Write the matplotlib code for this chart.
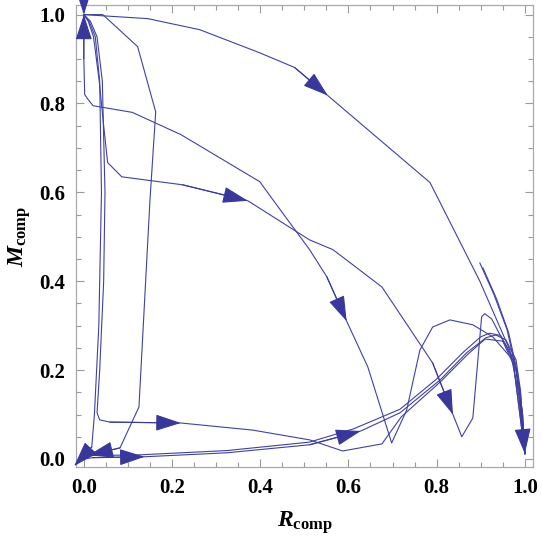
import numpy as np
import matplotlib.pyplot as plt
from matplotlib.ticker import MultipleLocator, FormatStrFormatter

plt.rcParams['font.family'] = ['Liberation Serif', 'DejaVu Serif']
plt.rcParams['font.weight'] = 'bold'
plt.rcParams['mathtext.fontset'] = 'custom'
plt.rcParams['mathtext.rm'] = 'Liberation Serif:bold'
plt.rcParams['mathtext.it'] = 'Liberation Serif:italic:bold'
plt.rcParams['mathtext.bf'] = 'Liberation Serif:bold'

# trajectories (R_comp, M_comp)
curve_a_x = [0, 0.145, 0.263, 0.399, 0.478, 0.553, 0.785, 0.898, 0.966, 0.989, 1.0]
curve_a_y = [1.0, 0.991, 0.966, 0.914, 0.881, 0.818, 0.622, 0.40, 0.245, 0.133, 0.012]

curve_b_x = [0, 0.043, 0.122, 0.163, 0.150, 0.125, 0.082, 0.010]
curve_b_y = [1.0, 1.0, 0.928, 0.781, 0.583, 0.117, 0.025, 0.008]

curve_c_x = [0, 0, 0.002, 0.009, 0.021, 0.11, 0.22, 0.399, 0.429, 0.512, 0.551, 0.596,
             0.644, 0.698, 0.732, 0.762, 0.791, 0.83, 0.882, 0.927, 0.973, 1.0]
curve_c_y = [1.0, 0.9, 0.82, 0.81, 0.795, 0.78, 0.73, 0.624, 0.583, 0.471, 0.41, 0.31,
             0.207, 0.036, 0.11, 0.245, 0.297, 0.313, 0.302, 0.275, 0.223, 0.012]

curve_d_x = [0, 0.01, 0.022, 0.035, 0.045, 0.054, 0.086, 0.224, 0.372, 0.512, 0.565, 0.676,
             0.791, 0.837, 0.857, 0.882, 0.902, 0.909, 0.925, 0.973, 1.0]
curve_d_y = [1.0, 0.985, 0.95, 0.85, 0.75, 0.667, 0.635, 0.617, 0.581, 0.493, 0.471, 0.387,
             0.216, 0.100, 0.05, 0.092, 0.32, 0.327, 0.315, 0.223, 0.012]

curve_e_x = [0, 0.015, 0.03, 0.042, 0.048, 0.045, 0.036, 0.03, 0.036, 0.059, 0.22, 0.383,
             0.512, 0.587, 0.676, 0.72, 0.81, 0.87, 0.91, 0.95, 0.98, 1.0]
curve_e_y = [1.0, 0.985, 0.95, 0.85, 0.6, 0.4, 0.2, 0.104, 0.088, 0.083, 0.081, 0.065,
             0.043, 0.018, 0.034, 0.095, 0.175, 0.235, 0.27, 0.265, 0.2, 0.012]

curve_f_x = [0, 0.012, 0.026, 0.036, 0.04, 0.034, 0.024, 0.018, -0.022]
curve_f_y = [1.0, 0.985, 0.95, 0.85, 0.6, 0.3, 0.1, 0.027, -0.016]

curve_g1_x = [0, 0.02, 0.138, 0.325, 0.512, 0.628, 0.717, 0.808, 0.868, 0.912, 0.934, 0.957, 0.98, 0.99, 1.0]
curve_g1_y = [0, 0.003, 0.005, 0.014, 0.032, 0.063, 0.104, 0.178, 0.239, 0.273, 0.279, 0.268, 0.223, 0.155, 0.012]

curve_g2_x = [0, 0.02, 0.12, 0.325, 0.512, 0.612, 0.717, 0.80, 0.86, 0.90, 0.92, 0.945, 0.975, 0.99, 1.0]
curve_g2_y = [0, 0.008, 0.009, 0.019, 0.038, 0.068, 0.112, 0.18, 0.24, 0.275, 0.283, 0.278, 0.225, 0.15, 0.012]

curve_h1_x = [0.898, 0.93, 0.96, 0.98, 0.995, 1.0]
curve_h1_y = [0.441, 0.37, 0.29, 0.20, 0.10, 0.012]
curve_h2_x = [0.905, 0.936, 0.963, 0.982, 0.995, 1.0]
curve_h2_y = [0.43, 0.36, 0.285, 0.20, 0.10, 0.012]

curve_i_x = [0, 0]
curve_i_y = [1.045, 1.0]

curves = {
    'A': (curve_a_x, curve_a_y), 'B': (curve_b_x, curve_b_y),
    'C': (curve_c_x, curve_c_y), 'D': (curve_d_x, curve_d_y),
    'E': (curve_e_x, curve_e_y), 'F': (curve_f_x, curve_f_y),
    'G1': (curve_g1_x, curve_g1_y), 'G2': (curve_g2_x, curve_g2_y),
    'H1': (curve_h1_x, curve_h1_y), 'H2': (curve_h2_x, curve_h2_y),
}

# arrowheads: (curve, tip index, tail index)
arrows = [('A', 5, 4), ('A', -1, -2), ('B', -1, -2), ('C', 0, 1), ('C', 11, 10),
          ('D', 8, 7), ('D', 13, 12), ('E', 10, 9), ('F', -1, -2),
          ('G1', 2, 1), ('G1', 5, 4), ('I', 1, 0)]

color = '#4040a6'

fig = plt.figure(figsize=(5.42, 5.38), dpi=100)
ax = fig.add_axes([0.140, 0.132, 0.843, 0.859])

for name, (cx, cy) in curves.items():
    ax.plot(cx, cy, color=color, lw=0.8)

all_curves = dict(curves)
all_curves['I'] = (curve_i_x, curve_i_y)
for name, tip, tail in arrows:
    cx, cy = all_curves[name]
    ax.annotate('', xy=(cx[tip], cy[tip]), xytext=(cx[tail], cy[tail]),
                annotation_clip=False,
                arrowprops=dict(arrowstyle='-|>,head_length=0.8,head_width=0.26',
                                color='#38389c', lw=0.8, mutation_scale=20,
                                shrinkA=0, shrinkB=0))

ax.set_xlim(-0.018, 1.018)
ax.set_ylim(-0.018, 1.022)

ax.xaxis.set_major_locator(MultipleLocator(0.2))
ax.yaxis.set_major_locator(MultipleLocator(0.2))
ax.xaxis.set_minor_locator(MultipleLocator(0.05))
ax.yaxis.set_minor_locator(MultipleLocator(0.05))
ax.xaxis.set_major_formatter(FormatStrFormatter('%.1f'))
ax.yaxis.set_major_formatter(FormatStrFormatter('%.1f'))
ax.tick_params(which='both', direction='in', top=True, right=True, color='#9a9a9a', width=0.8)
ax.tick_params(which='major', length=6, labelsize=15, pad=8)
ax.tick_params(which='minor', length=3.5)
for s in ax.spines.values():
    s.set_color('#a8a8a8')
    s.set_linewidth(0.9)

ax.set_xlabel(r'$\mathit{R}_{\mathbf{comp}}$', fontsize=17, labelpad=8)
ax.set_ylabel(r'$\mathit{M}_{\mathbf{comp}}$', fontsize=17, labelpad=4)

fig.savefig('out.png', dpi=100)
